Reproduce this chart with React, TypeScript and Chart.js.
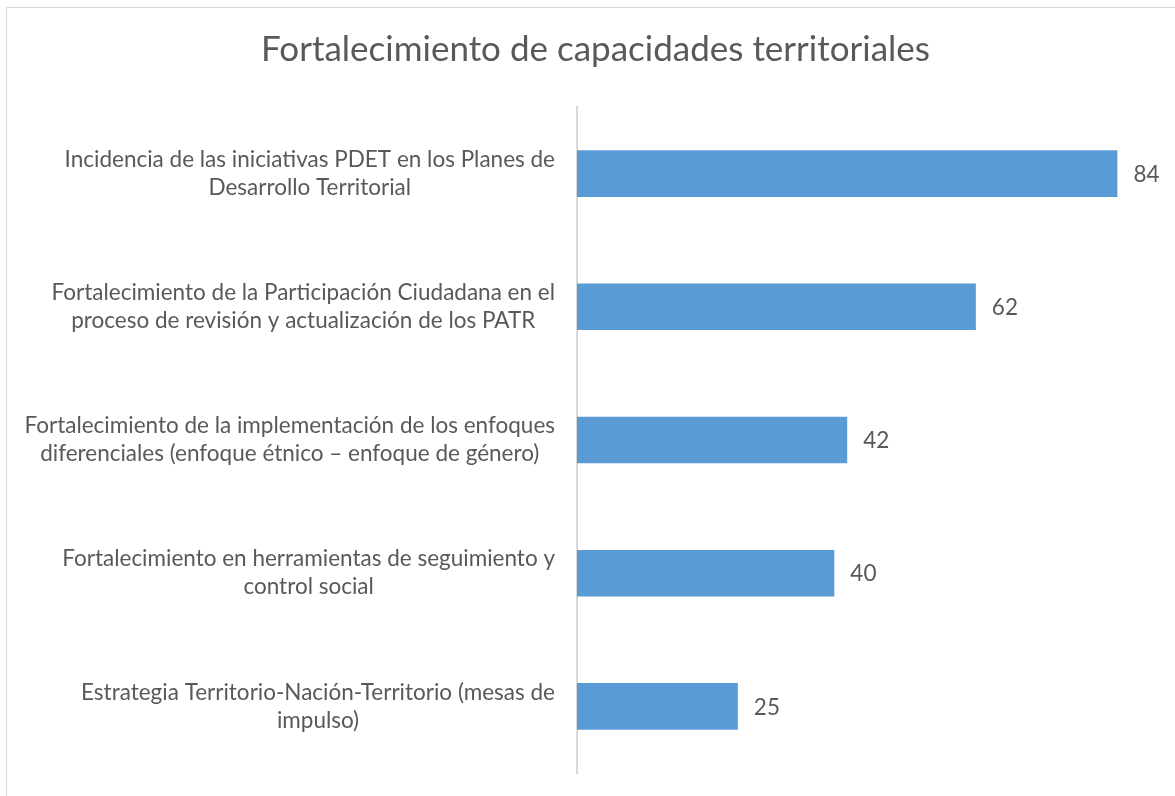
import React, { useEffect, useRef } from "react";
import { Chart, registerables } from "chart.js";

Chart.register(...registerables);

const TITLE = "Fortalecimiento de capacidades territoriales";
const CATEGORIES: string[][] = [
  ["Incidencia de las iniciativas PDET en los Planes de", "Desarrollo Territorial"],
  ["Fortalecimiento de la Participación Ciudadana en el", "proceso de revisión y actualización de los PATR"],
  ["Fortalecimiento de la implementación de los enfoques", "diferenciales (enfoque étnico – enfoque de género)"],
  ["Fortalecimiento en herramientas de seguimiento y", "control social"],
  ["Estrategia Territorio-Nación-Territorio (mesas de", "impulso)"],
];
const VALUES: number[] = [84, 62, 42, 40, 25];
const X_MAX = 90;

const FONT = "Lato, 'Open Sans', sans-serif";
const TEXT = "#595959";
const LABEL_SIZE = 22.5;
const LINE_H = 28;
const LABEL_GAP = 22;

const valueLabels = {
  id: "valueLabels",
  afterDatasetsDraw(chart: any) {
    const ctx = chart.ctx;
    const meta = chart.getDatasetMeta(0);
    ctx.save();
    ctx.font = `${LABEL_SIZE}px ${FONT}`;
    ctx.fillStyle = TEXT;
    ctx.textAlign = "left";
    ctx.textBaseline = "middle";
    meta.data.forEach((bar: any, i: number) => {
      ctx.fillText(String(VALUES[i]), bar.x + 16, bar.y + 1);
    });
    ctx.restore();
  },
};

const categoryLabels = {
  id: "categoryLabels",
  afterDraw(chart: any) {
    const ctx = chart.ctx;
    const yScale = chart.scales.y;
    const right = chart.chartArea.left - LABEL_GAP;
    ctx.save();
    ctx.font = `${LABEL_SIZE}px ${FONT}`;
    ctx.fillStyle = TEXT;
    ctx.textAlign = "center";
    ctx.textBaseline = "middle";
    CATEGORIES.forEach((lines, i) => {
      const maxW = Math.max(...lines.map((l) => ctx.measureText(l).width));
      const cx = right - maxW / 2;
      const cy = yScale.getPixelForTick(i);
      const top = cy - ((lines.length - 1) * LINE_H) / 2;
      lines.forEach((l, j) => ctx.fillText(l, cx, top + j * LINE_H));
    });
    ctx.restore();
  },
};

export default function App() {
  const ref = useRef<HTMLCanvasElement>(null);
  useEffect(() => {
    if (!ref.current) return;
    const chart = new Chart(ref.current, {
      type: "bar",
      data: {
        labels: CATEGORIES,
        datasets: [
          {
            data: VALUES,
            backgroundColor: "#5B9BD5",
            categoryPercentage: 1,
            barPercentage: 0.35,
          },
        ],
      },
      options: {
        indexAxis: "y",
        animation: false,
        responsive: false,
        layout: { padding: { left: 28, right: 28, top: 0, bottom: 35 } },
        plugins: {
          legend: { display: false },
          tooltip: { enabled: false },
          title: {
            display: true,
            text: TITLE,
            color: TEXT,
            font: { family: FONT, size: 35, weight: "normal", lineHeight: 1.2 },
            padding: { top: 21, bottom: 36 },
          },
        },
        scales: {
          x: { display: false, min: 0, max: X_MAX },
          y: {
            afterFit: (scale: any) => {
              scale.width = 542;
            },
            grid: { display: false, drawTicks: false },
            border: { display: true, color: "#D9D9D9", width: 2 },
            ticks: { display: false },
          },
        },
      },
      plugins: [valueLabels, categoryLabels],
    });
    return () => chart.destroy();
  }, []);
  return (
    <div
      style={{
        position: "fixed",
        left: 6,
        top: 7,
        width: 1177,
        height: 800,
        border: "1px solid #D9D9D9",
        background: "#fff",
      }}
    >
      <canvas ref={ref} width={1177} height={800} style={{ display: "block" }} />
    </div>
  );
}
